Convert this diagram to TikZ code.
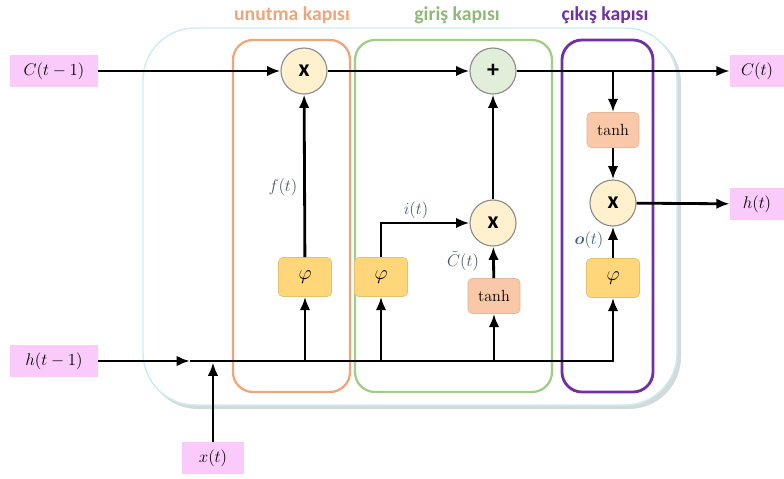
\documentclass[tikz,border=0pt]{standalone}
\usepackage{amsmath}
\usepackage{fontspec}
\usepackage{tikz}
\usetikzlibrary{arrows.meta}
\usepackage{xcolor}
\newfontfamily\gatefont{Carlito}
\definecolor{labelpink}{RGB}{250,202,250}
\definecolor{cellcyan}{RGB}{205,236,240}
\definecolor{cellshadow}{RGB}{212,218,220}
\definecolor{forgetorange}{RGB}{238,165,122}
\definecolor{inputgreen}{RGB}{160,205,135}
\definecolor{outputpurple}{RGB}{112,48,160}
\definecolor{multcream}{RGB}{255,241,205}
\definecolor{addgreen}{RGB}{224,238,218}
\definecolor{sigyellow}{RGB}{255,214,122}
\definecolor{tanhpeach}{RGB}{248,200,168}
\definecolor{textgrey}{RGB}{75,85,105}
\definecolor{obluegrey}{RGB}{60,100,130}

\begin{document}
\begin{tikzpicture}[x=0.025cm,y=-0.025cm,
    flow/.style={line width=2pt,-{Latex[length=9.5pt,width=7.5pt]}},
    pinkbox/.style={fill=labelpink,minimum width=2.2cm,minimum height=0.8cm,
      inner sep=0pt,font=\large},
    opnode/.style={circle,draw=black!45,line width=0.8pt,fill=multcream,
      minimum size=1.15cm,inner sep=0pt,font=\gatefont\bfseries\fontsize{17}{17}\selectfont},
    sigbox/.style={rounded corners=3pt,fill=sigyellow,draw=sigyellow!90!black,
      minimum width=1.325cm,minimum height=0.975cm,inner sep=0pt,font=\Large},
    tanhbox/.style={rounded corners=3pt,fill=tanhpeach,draw=tanhpeach!92!black,
      minimum width=1.3cm,minimum height=0.875cm,inner sep=0pt,
      font=\fontsize{11.5}{13}\selectfont},
    gatetitle/.style={font=\gatefont\bfseries\fontsize{14}{16}\selectfont},
    siglabel/.style={textgrey,inner sep=1pt,font=\large}]
    \useasboundingbox (0,0) rectangle (784,479);

    % Cell body with a soft shadow
    \fill[cellshadow,rounded corners=1.3cm] (146,31) rectangle (681,409);
    \filldraw[fill=white,draw=cellcyan,line width=1pt,rounded corners=1.3cm]
      (143,28) rectangle (677,405);

    % Gate frames
    \draw[forgetorange,line width=1.6pt,rounded corners=0.5cm] (233,40) rectangle (350,392);
    \draw[inputgreen,line width=1.6pt,rounded corners=0.5cm] (355,40) rectangle (552,392);
    \draw[outputpurple,line width=2pt,rounded corners=0.5cm] (562,40) rectangle (653,392);

    % Gate titles
    \node[gatetitle,forgetorange] at (292,15) {unutma kapısı};
    \node[gatetitle,inputgreen!90!black] at (457,15) {giriş kapısı};
    \node[gatetitle,outputpurple] at (605,15) {çıkış kapısı};

    % Inputs and outputs
    \node[pinkbox] (cprev) at (54,71) {$C(t-1)$};
    \node[pinkbox] (hprev) at (54,361) {$h(t-1)$};
    \node[pinkbox,minimum width=1.525cm,minimum height=0.775cm] (xin) at (213,458) {$x(t)$};
    \node[pinkbox,minimum width=1.35cm] (cout) at (757,71) {$C(t)$};
    \node[pinkbox,minimum width=1.35cm] (hout) at (757,204) {$h(t)$};

    % Operations
    \node[opnode] (fmul) at (304,71) {x};
    \node[opnode,fill=addgreen] (addc) at (493,71) {+};
    \node[opnode] (imul) at (493,223) {x};
    \node[opnode] (omul) at (613,203) {x};

    % Activations
    \node[sigbox] (fsig) at (305,277) {$\varphi$};
    \node[sigbox] (isig) at (381,277) {$\varphi$};
    \node[sigbox] (osig) at (613,278) {$\varphi$};
    \node[tanhbox] (ctanh) at (494,296) {tanh};
    \node[tanhbox] (otanh) at (613,130) {tanh};

    % Cell state line
    \draw[flow] (cprev) -- (fmul);
    \draw[flow] (fmul) -- (addc);
    \draw[flow] (addc) -- (cout);
    \draw[flow] (addc -| otanh) -- (otanh);
    \draw[flow] (otanh) -- (omul);
    \draw[flow] (omul) -- (hout);

    % Hidden state and input line
    \coordinate (hmid) at (190,361);
    \draw[flow] (hprev) -- (hmid);
    \draw[flow] (hmid) -| (osig);
    \draw[flow,shorten >=1pt] (xin) -- (xin |- hmid);
    \draw[flow] (fsig |- hmid) -- (fsig);
    \draw[flow] (isig |- hmid) -- (isig);
    \draw[flow] (ctanh |- hmid) -- (ctanh);

    % Gate signals
    \draw[flow] (fsig) -- (fmul);
    \draw[flow] (isig) |- (imul);
    \draw[flow] (ctanh) -- (imul);
    \draw[flow] (imul) -- (addc);
    \draw[flow] (osig) -- (omul);

    % Signal labels
    \node[siglabel] at (283,187) {$f(t)$};
    \node[siglabel] at (416,210) {$i(t)$};
    \node[siglabel] at (463,261) {$\tilde{C}(t)$};
    \node[siglabel,obluegrey] at (589,240) {$\boldsymbol{o}(t)$};
  \end{tikzpicture}
\end{document}
